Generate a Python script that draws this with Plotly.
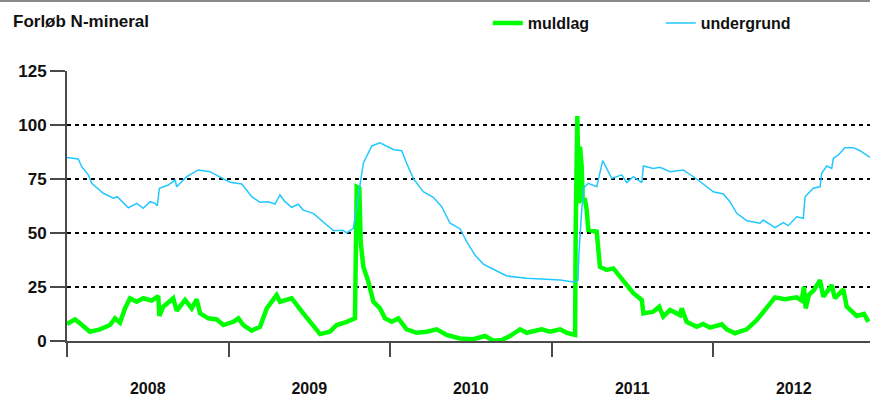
import plotly.graph_objects as go

# ---- data (x in decimal years) ----
years = [2008, 2009, 2010, 2011, 2012]
year_labels = ["2008", "2009", "2010", "2011", "2012"]
y_ticks = [0, 25, 50, 75, 100, 125]

undergrund_x = [
    2008.000, 2008.070, 2008.091, 2008.132, 2008.153, 2008.225, 2008.287, 2008.311,
    2008.380, 2008.432, 2008.472, 2008.514, 2008.545, 2008.559, 2008.572, 2008.627,
    2008.669, 2008.679, 2008.741, 2008.813, 2008.885, 2008.947, 2009.009, 2009.082,
    2009.144, 2009.195, 2009.246, 2009.288, 2009.319, 2009.350, 2009.391, 2009.432,
    2009.463, 2009.525, 2009.587, 2009.649, 2009.711, 2009.732, 2009.773, 2009.814,
    2009.835, 2009.887, 2009.938, 2010.020, 2010.072, 2010.103, 2010.144, 2010.206,
    2010.268, 2010.320, 2010.372, 2010.433, 2010.475, 2010.526, 2010.578, 2010.640,
    2010.723, 2010.846, 2010.970, 2011.053, 2011.135, 2011.164, 2011.170, 2011.187,
    2011.201, 2011.228, 2011.280, 2011.290, 2011.317, 2011.373, 2011.435, 2011.466,
    2011.507, 2011.559, 2011.569, 2011.630, 2011.672, 2011.734, 2011.816, 2011.899,
    2011.950, 2012.002, 2012.064, 2012.105, 2012.147, 2012.209, 2012.291, 2012.311,
    2012.384, 2012.435, 2012.466, 2012.518, 2012.559, 2012.570, 2012.621, 2012.663,
    2012.673, 2012.704, 2012.735, 2012.745, 2012.776, 2012.817, 2012.869, 2012.910,
    2012.972,
]
undergrund_y = [
    85.0, 84.3, 80.7, 76.9, 73.0, 68.4, 66.1, 66.8,
    61.7, 63.7, 61.4, 64.5, 63.7, 62.6, 70.7, 72.2,
    74.5, 71.4, 76.1, 79.2, 78.4, 76.1, 73.5, 72.7,
    66.8, 64.2, 64.5, 63.4, 67.6, 64.5, 61.9, 63.3,
    60.6, 59.1, 55.2, 51.1, 51.1, 50.1, 52.2, 71.4,
    82.3, 90.3, 91.8, 88.7, 88.1, 82.3, 75.3, 69.1,
    66.5, 62.2, 54.5, 52.0, 46.0, 39.8, 35.6, 33.2,
    30.1, 29.0, 28.6, 28.2, 27.3, 28.0, 40.7, 60.6,
    71.0, 73.0, 71.4, 74.5, 83.5, 75.3, 76.9, 73.3,
    76.1, 73.3, 81.0, 79.9, 80.4, 78.4, 79.2, 75.0,
    72.2, 69.1, 68.1, 64.5, 59.1, 55.7, 54.5, 56.0,
    52.5, 54.8, 53.4, 57.5, 56.8, 66.8, 70.7, 71.4,
    77.6, 81.0, 79.9, 84.6, 86.1, 89.5, 89.5, 88.1,
    85.0,
]

muldlag_x = [
    2008.000, 2008.050, 2008.080, 2008.142, 2008.204, 2008.266, 2008.297, 2008.328,
    2008.359, 2008.390, 2008.432, 2008.472, 2008.524, 2008.565, 2008.572, 2008.596,
    2008.658, 2008.679, 2008.731, 2008.772, 2008.803, 2008.824, 2008.875, 2008.927,
    2008.968, 2009.030, 2009.061, 2009.092, 2009.144, 2009.195, 2009.237, 2009.298,
    2009.319, 2009.391, 2009.463, 2009.515, 2009.567, 2009.628, 2009.670, 2009.732,
    2009.783, 2009.794, 2009.810, 2009.819, 2009.835, 2009.866, 2009.897, 2009.938,
    2009.969, 2010.011, 2010.051, 2010.103, 2010.165, 2010.227, 2010.289, 2010.351,
    2010.433, 2010.516, 2010.588, 2010.640, 2010.692, 2010.743, 2010.805, 2010.846,
    2010.939, 2010.991, 2011.053, 2011.094, 2011.146, 2011.150, 2011.160, 2011.169,
    2011.177, 2011.187, 2011.193, 2011.207, 2011.218, 2011.228, 2011.280, 2011.300,
    2011.342, 2011.383, 2011.445, 2011.507, 2011.559, 2011.569, 2011.630, 2011.667,
    2011.692, 2011.734, 2011.796, 2011.806, 2011.837, 2011.899, 2011.940, 2011.981,
    2012.054, 2012.085, 2012.136, 2012.209, 2012.271, 2012.333, 2012.384, 2012.446,
    2012.518, 2012.549, 2012.563, 2012.574, 2012.594, 2012.625, 2012.663, 2012.683,
    2012.735, 2012.755, 2012.807, 2012.828, 2012.890, 2012.935, 2012.962,
]
muldlag_y = [
    7.9, 10.0, 8.2, 4.3, 5.4, 7.4, 10.5, 8.5,
    15.1, 19.8, 18.2, 19.8, 18.7, 20.8, 11.6, 15.9,
    19.8, 14.0, 19.0, 15.1, 19.3, 12.8, 10.5, 10.0,
    7.4, 8.9, 10.5, 7.4, 4.8, 6.6, 15.1, 21.3,
    18.2, 19.8, 12.8, 8.2, 3.2, 4.3, 7.4, 8.9,
    10.5, 71.4, 70.7, 45.2, 34.4, 27.5, 18.2, 15.1,
    10.5, 8.9, 10.5, 5.4, 3.8, 4.3, 5.4, 2.8,
    1.2, 0.8, 2.3, 0.1, 0.5, 2.3, 5.4, 3.8,
    5.4, 4.3, 5.4, 3.8, 2.8, 52.9, 104.2, 63.7,
    90.0, 80.7, 65.3, 65.3, 60.6, 51.4, 50.6, 34.4,
    32.9, 33.6, 28.2, 22.1, 19.0, 12.8, 13.6, 15.9,
    11.3, 14.4, 12.0, 15.1, 8.9, 6.6, 7.9, 6.2,
    7.7, 5.4, 3.6, 5.4, 9.7, 15.9, 20.2, 19.3,
    20.2, 18.7, 25.1, 15.1, 21.3, 23.6, 28.2, 20.5,
    25.9, 19.8, 23.9, 15.9, 11.6, 12.5, 8.9,
]

# ---- figure ----
W, H = 870, 400
ML, MR, MT, MB = 67, 0, 71, 59
FONT = "Liberation Sans, Arial, sans-serif"
AX = "#4a4a4a"

fig = go.Figure()
fig.add_trace(go.Scatter(
    x=muldlag_x, y=muldlag_y, name="muldlag", mode="lines",
    line=dict(color="#00ff00", width=4.5),
))
fig.add_trace(go.Scatter(
    x=undergrund_x, y=undergrund_y, name="undergrund", mode="lines",
    line=dict(color="#22c8ff", width=1.5),
))

plot_h = H - MT - MB
fig.update_layout(
    width=W, height=H,
    margin=dict(l=ML, r=MR, t=MT, b=MB, autoexpand=False),
    paper_bgcolor="white", plot_bgcolor="white",
    font=dict(family=FONT, size=16, color="#111", weight="bold"),
    title=dict(text="Forløb N-mineral", x=13 / W, xref="container", xanchor="left",
               y=1 - 21 / H, yref="container", yanchor="middle",
               font=dict(family=FONT, size=17, color="#111", weight="bold")),
    showlegend=True,
    legend=dict(orientation="h", x=0.524, xanchor="left",
                y=1 + (MT - 23) / plot_h, yanchor="middle",
                font=dict(family=FONT, size=16, color="#111", weight="bold"),
                bgcolor="rgba(0,0,0,0)", entrywidth=128, entrywidthmode="pixels",
                traceorder="normal"),
    xaxis=dict(
        range=[2008, 2008 + (W - ML - MR) / 161.5],
        tickmode="array", tickvals=[y + 0.5 for y in years], ticktext=year_labels,
        ticks="", ticklabelstandoff=32, automargin=False,
        tickfont=dict(family=FONT, size=16, color="#111", weight="bold"),
        showgrid=False, zeroline=False,
        showline=True, linecolor=AX, linewidth=2,
        minor=dict(tickmode="array", tickvals=years, ticks="outside", ticklen=14,
                   tickwidth=2, tickcolor=AX, showgrid=False),
        fixedrange=True,
    ),
    yaxis=dict(
        range=[0, 125], tickmode="array", tickvals=y_ticks, automargin=False,
        ticks="outside", ticklen=15, tickwidth=2, tickcolor=AX,
        tickfont=dict(family=FONT, size=17, color="#111", weight="bold"),
        showgrid=True, gridcolor="#000", gridwidth=1.3, griddash="4px,4px",
        zeroline=False, showline=True, linecolor=AX, linewidth=2,
        fixedrange=True,
    ),
)

# thin grey frame line at the very top of the image
fig.add_shape(type="line", xref="paper", yref="paper",
              x0=-ML / (W - ML - MR), x1=1.0,
              y0=1 + (MT - 1) / plot_h, y1=1 + (MT - 1) / plot_h,
              line=dict(color="#8a8a8a", width=2))

# remove the browser's default page margin so the figure sits at (0, 0)
fig.write_html("out.html",
               config={"displayModeBar": False, "staticPlot": True},
               post_script="document.body.style.margin='0';"
                           "document.body.style.overflow='hidden';")
